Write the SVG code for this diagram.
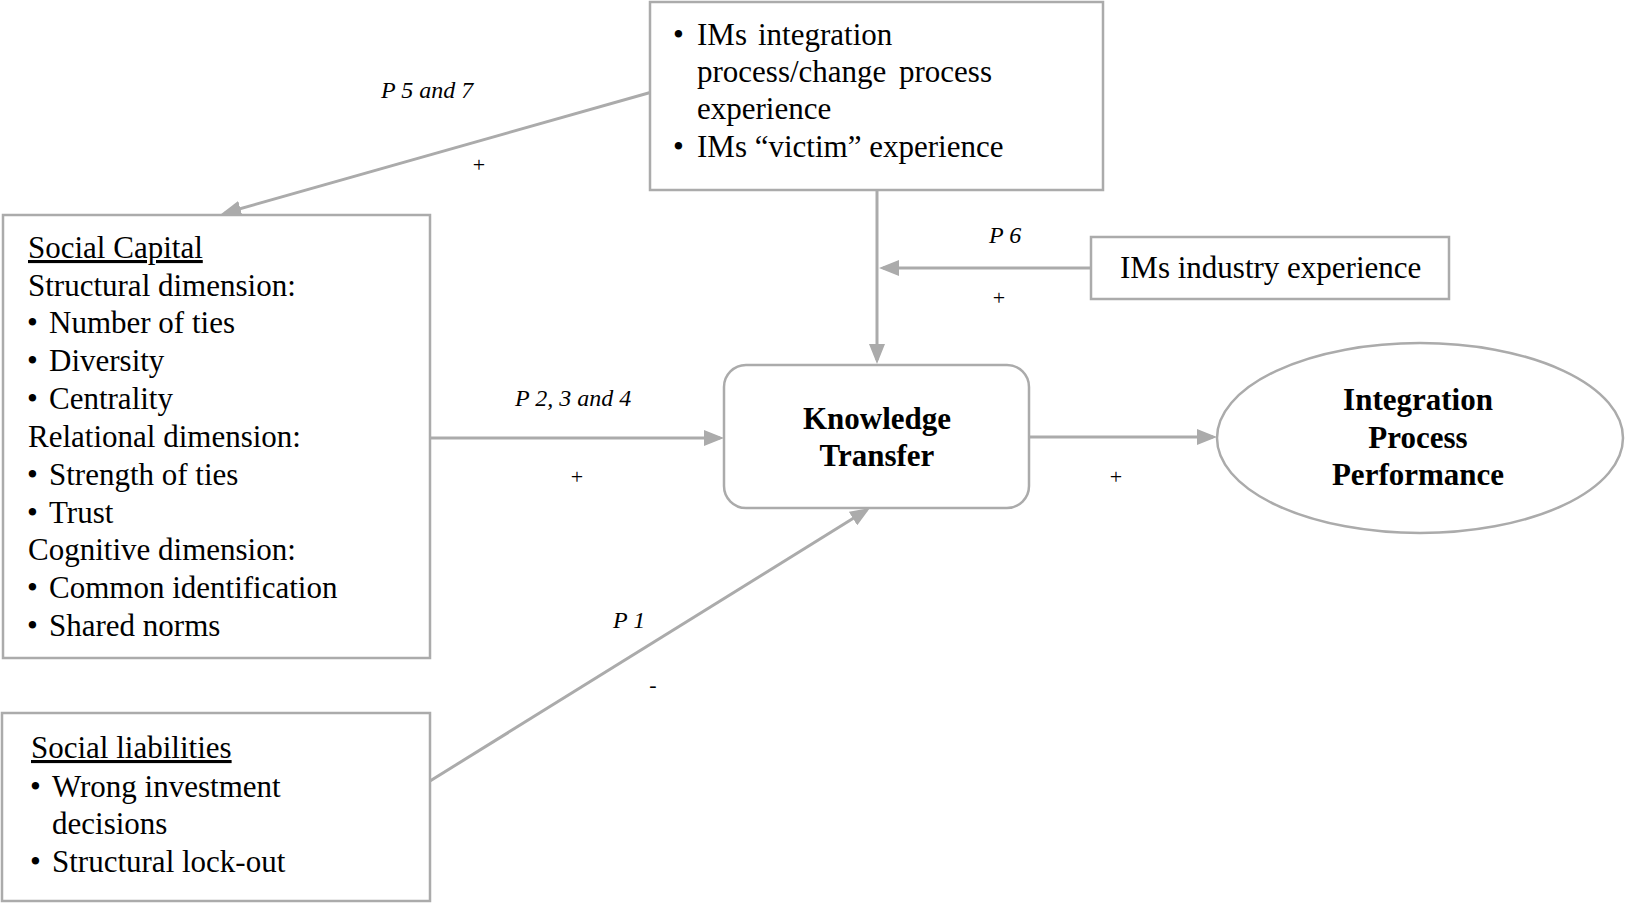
<svg xmlns="http://www.w3.org/2000/svg" width="1626" height="903" viewBox="0 0 1626 903">
<style>
.box{fill:#fff;stroke:#ababab;stroke-width:2.5}
.ln{fill:none;stroke:#ababab;stroke-width:3}
.t{font-family:"Liberation Serif","Times New Roman",serif;font-size:31px;fill:#000}
.b{font-family:"Liberation Serif","Times New Roman",serif;font-size:31px;font-weight:bold;fill:#000;text-anchor:middle}
.lab{font-family:"Liberation Serif","Times New Roman",serif;font-size:24px;font-style:italic;fill:#000}
.sg{font-family:"Liberation Serif","Times New Roman",serif;font-size:22px;fill:#000;text-anchor:middle}
.u{text-decoration:underline}
</style>
<defs>
<marker id="ah" viewBox="0 0 20 16" refX="16" refY="8" markerWidth="20" markerHeight="16" markerUnits="userSpaceOnUse" orient="auto">
<path d="M0,0 L20,8 L0,16 z" fill="#ababab"/>
</marker>
</defs>
<rect width="1626" height="903" fill="#fff"/>
<g id="connectors">
<line class="ln" x1="652" y1="92" x2="225" y2="213" marker-end="url(#ah)"/>
<line class="ln" x1="877" y1="190" x2="877" y2="360" marker-end="url(#ah)"/>
<line class="ln" x1="1091" y1="268" x2="883" y2="268" marker-end="url(#ah)"/>
<line class="ln" x1="430" y1="438" x2="720" y2="438" marker-end="url(#ah)"/>
<line class="ln" x1="1029" y1="437" x2="1213" y2="437" marker-end="url(#ah)"/>
<line class="ln" x1="430" y1="781" x2="866.6" y2="510.1" marker-end="url(#ah)"/>
<text class="lab" x="381" y="98">P 5 and 7</text>
<text class="sg" x="479" y="172">+</text>
<text class="lab" x="989" y="243">P 6</text>
<text class="sg" x="999" y="305">+</text>
<text class="lab" x="515" y="406">P 2, 3 and 4</text>
<text class="sg" x="577" y="484">+</text>
<text class="sg" x="1116" y="484">+</text>
<text class="lab" x="613" y="628">P 1</text>
<text class="sg" x="653" y="692">-</text>
</g>
<g id="experience">
<rect class="box" x="650" y="2" width="453" height="188"/>
<text class="t" x="673" y="45">•</text>
<text class="t" x="697" y="45">IMs</text>
<text class="t" x="758" y="45">integration</text>
<text class="t" x="697" y="82">process/change</text>
<text class="t" x="899" y="82">process</text>
<text class="t" x="697" y="119">experience</text>
<text class="t" x="673" y="157">•</text>
<text class="t" x="697" y="157">IMs “victim” experience</text>
</g>
<g id="social-capital">
<rect class="box" x="3" y="215" width="427" height="443"/>
<text class="t u" x="28" y="258">Social Capital</text>
<text class="t" x="28" y="296">Structural dimension:</text>
<text class="t" x="27" y="333">•</text><text class="t" x="49" y="333">Number of ties</text>
<text class="t" x="27" y="371">•</text><text class="t" x="49" y="371">Diversity</text>
<text class="t" x="27" y="409">•</text><text class="t" x="49" y="409">Centrality</text>
<text class="t" x="28" y="447">Relational dimension:</text>
<text class="t" x="27" y="485">•</text><text class="t" x="49" y="485">Strength of ties</text>
<text class="t" x="27" y="523">•</text><text class="t" x="49" y="523">Trust</text>
<text class="t" x="28" y="560">Cognitive dimension:</text>
<text class="t" x="27" y="598">•</text><text class="t" x="49" y="598">Common identification</text>
<text class="t" x="27" y="636">•</text><text class="t" x="49" y="636">Shared norms</text>
</g>
<g id="social-liabilities">
<rect class="box" x="2" y="713" width="428" height="188"/>
<text class="t u" x="31" y="758">Social liabilities</text>
<text class="t" x="30" y="797">•</text><text class="t" x="52" y="797">Wrong investment</text>
<text class="t" x="52" y="834">decisions</text>
<text class="t" x="30" y="872">•</text><text class="t" x="52" y="872">Structural lock-out</text>
</g>
<g id="industry">
<rect class="box" x="1091" y="237" width="358" height="62"/>
<text class="t" x="1120" y="278">IMs industry experience</text>
</g>
<g id="knowledge-transfer">
<rect class="box" x="724" y="365" width="305" height="143" rx="22"/>
<text class="b" x="877" y="429">Knowledge</text>
<text class="b" x="877" y="466">Transfer</text>
</g>
<g id="performance">
<ellipse class="box" cx="1420" cy="438" rx="203" ry="95"/>
<text class="b" x="1418" y="410">Integration</text>
<text class="b" x="1418" y="448">Process</text>
<text class="b" x="1418" y="485">Performance</text>
</g>
</svg>
